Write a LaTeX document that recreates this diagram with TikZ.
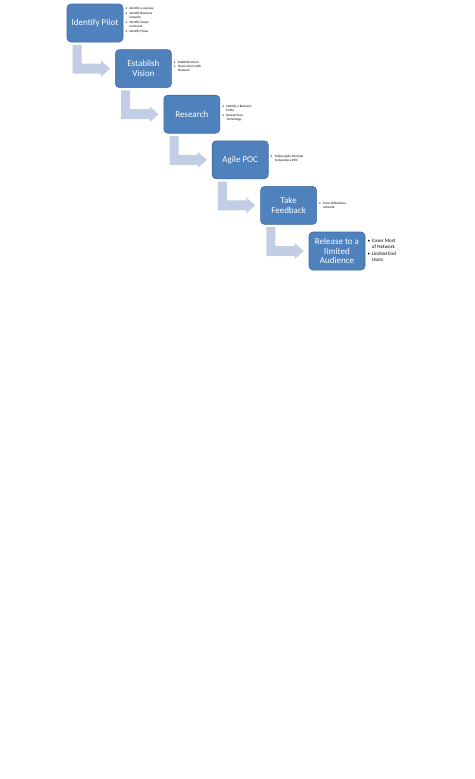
\documentclass[tikz,border=0pt]{standalone}
\usepackage{fontspec}
\setmainfont{Carlito}
\usetikzlibrary{calc}
\definecolor{boxfill}{HTML}{4F81BD}
\definecolor{boxline}{HTML}{3E6A9E}
\definecolor{arrowc}{HTML}{C2CEE3}
\tikzset{
  stepbox/.style={draw=boxline, line width=0.6pt, fill=boxfill, rounded corners=4pt,
    minimum width=56pt, minimum height=38pt, inner sep=1pt, text=white,
    align=center, font=\fontsize{9}{9.5}\selectfont},
  notes/.style={anchor=west, inner sep=0pt, align=left, text=black,
    font=\fontsize{3.3}{4}\selectfont},
  bignotes/.style={anchor=west, inner sep=0pt, align=left, text=black,
    font=\fontsize{5}{6}\selectfont},
}
\newcommand\bentarrow[2]{%
  \path let \p1=(#1.south west), \p2=(#2.west) in
    [fill=arrowc] (\x1+6pt,\y1-2.5pt) -- (\x1+15pt,\y1-2.5pt) -- (\x1+15pt,\y2+5pt)
    -- (\x2-14pt,\y2+5pt) -- (\x2-14pt,\y2+8pt) -- (\x2-5pt,\y2)
    -- (\x2-14pt,\y2-8pt) -- (\x2-14pt,\y2-5pt) -- (\x1+6pt,\y2-5pt) -- cycle;}
\begin{document}
\begin{tikzpicture}[x=1pt,y=-1pt]
\useasboundingbox (0,0) rectangle (474,779);
\node[stepbox] (b1) at (95.0,23.0) {Identify Pilot};
\node[stepbox] (b2) at (143.4,68.6) {Establish\\Vision};
\node[stepbox] (b3) at (191.8,114.2) {Research};
\node[stepbox] (b4) at (240.2,159.8) {Agile POC};
\node[stepbox] (b5) at (288.6,205.4) {Take\\Feedback};
\node[stepbox] (b6) at (337.0,251.0) {Release to a\\limited\\Audience};
\bentarrow{b1}{b2}
\bentarrow{b2}{b3}
\bentarrow{b3}{b4}
\bentarrow{b4}{b5}
\bentarrow{b5}{b6}
\node[notes] (n1) at ($(b1.east)+(2,-3)$) {\begin{tabular}{@{}l@{\hspace{2.5pt}}l@{}}
\textbullet & Identify a usecase\\[0.8pt]
\textbullet & Identify Business\\ & network\\[0.8pt]
\textbullet & Identify Smart\\ & Contracts\\[0.8pt]
\textbullet & Identify Flows\end{tabular}};
\node[notes] (n2) at ($(b2.east)+(2,-2)$) {\begin{tabular}{@{}l@{\hspace{2.5pt}}l@{}}
\textbullet & Establish Vision\\[0.8pt]
\textbullet & Share Vision with\\ & Network\end{tabular}};
\node[notes] (n3) at ($(b3.east)+(2,-1)$) {\begin{tabular}{@{}l@{\hspace{2.5pt}}l@{}}
\textbullet & Identify a Business\\ & Entity\\[0.8pt]
\textbullet & Research on\\ & Technology\end{tabular}};
\node[notes] (n4) at ($(b4.east)+(2,-1)$) {\begin{tabular}{@{}l@{\hspace{2.5pt}}l@{}}
\textbullet & Follow Agile Principle\\ & to develop a POC\end{tabular}};
\node[notes] (n5) at ($(b5.east)+(2,0)$) {\begin{tabular}{@{}l@{\hspace{2.5pt}}l@{}}
\textbullet & Train all Business\\ & network\end{tabular}};
\node[bignotes] (n6) at ($(b6.east)+(2,0)$) {\begin{tabular}{@{}l@{\hspace{2pt}}l@{}}
\textbullet & Cover Most\\ & of Network\\[1pt]
\textbullet & Limited End\\ & Users\end{tabular}};
\end{tikzpicture}
\end{document}
